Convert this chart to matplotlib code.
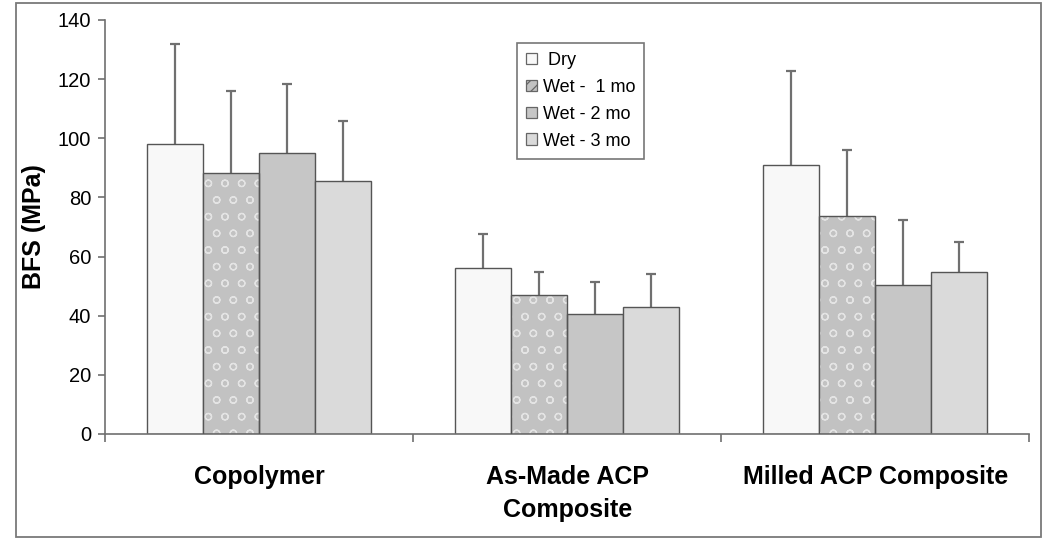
import numpy as np
import matplotlib
matplotlib.use('Agg')
import matplotlib.pyplot as plt
from matplotlib.patches import Rectangle, Patch

plt.rcParams['font.family'] = ['Liberation Sans', 'DejaVu Sans']
plt.rcParams['hatch.linewidth'] = 0.9

groups = ['Copolymer', 'As-Made ACP\nComposite', 'Milled ACP Composite']
series = [' Dry', 'Wet -  1 mo', 'Wet - 2 mo', 'Wet - 3 mo']
dry = [98.1, 56.1, 91.0]
wet1 = [88.3, 47.0, 73.8]
wet2 = [95.0, 40.6, 50.3]
wet3 = [85.6, 42.9, 54.7]
dry_err = [33.8, 11.4, 31.9]
wet1_err = [27.7, 7.8, 22.1]
wet2_err = [23.4, 10.9, 22.1]
wet3_err = [20.3, 11.2, 10.1]

values = [dry, wet1, wet2, wet3]
errors = [dry_err, wet1_err, wet2_err, wet3_err]
faces = ['#f8f8f8', '#c2c2c2', '#c6c6c6', '#dadada']
hatches = [None, 'o', None, None]

fig = plt.figure(figsize=(10.5, 5.4), dpi=100)
fig.patches.append(Rectangle((16 / 1050, 3 / 540), 1025 / 1050, 534 / 540,
                             transform=fig.transFigure, fill=False,
                             edgecolor='#7a7a7a', linewidth=1.3))
ax = fig.add_axes([0.1, 0.1963, 0.8803, 0.7667])

x = np.arange(len(groups))
w = 1 / 5.5
for i, (vals, errs) in enumerate(zip(values, errors)):
    pos = x + (i - 1.5) * w
    if hatches[i]:
        # light texture, then dark outline on top
        ax.bar(pos, vals, width=w, color=faces[i], edgecolor='#e4e4e4',
               linewidth=0, hatch=hatches[i], zorder=2)
        ax.bar(pos, vals, width=w, color='none', edgecolor='#555555',
               linewidth=1.0, zorder=3)
    else:
        ax.bar(pos, vals, width=w, color=faces[i], edgecolor='#555555',
               linewidth=1.0, zorder=2)
    eb = ax.errorbar(pos, vals, yerr=[np.zeros(len(errs)), errs], fmt='none',
                     ecolor='#707070', elinewidth=1.6, capsize=3.8,
                     capthick=1.6, zorder=1)
    eb[1][0].set_visible(False)

ax.set_xlim(-0.5, 2.5)
ax.set_ylim(0, 140)
ax.set_yticks(np.arange(0, 141, 20))
ax.set_xticks(x)
ax.set_xticklabels(groups, fontsize=18, fontweight='bold', linespacing=1.5)
ax.set_xticks([-0.5, 0.5, 1.5, 2.5], minor=True)
ax.tick_params(axis='x', which='major', length=0, pad=22)
ax.tick_params(axis='x', which='minor', length=6, width=1.2, color='#707070',
               direction='out')
ax.tick_params(axis='y', length=5, width=1.2, color='#707070',
               labelsize=14.5, pad=5)
ax.set_ylabel('BFS (MPa)', fontsize=18, fontweight='bold', labelpad=8)

for s in ['top', 'right']:
    ax.spines[s].set_visible(False)
for s in ['left', 'bottom']:
    ax.spines[s].set_color('#707070')
    ax.spines[s].set_linewidth(1.2)

handles = [Patch(facecolor=faces[i], edgecolor='#666666', linewidth=0.9,
                 hatch='///' if i == 1 else None) for i in range(4)]
leg = ax.legend(handles, series, loc='upper left',
                bbox_to_anchor=(0.446, 0.945),
                fontsize=13, frameon=True, fancybox=False,
                handlelength=0.6, handleheight=0.6, handletextpad=0.3,
                labelspacing=0.55, borderpad=0.5, borderaxespad=0)
leg.get_frame().set_edgecolor('#555555')
leg.get_frame().set_linewidth(1.2)

fig.savefig('out.png', dpi=100, facecolor='white')
